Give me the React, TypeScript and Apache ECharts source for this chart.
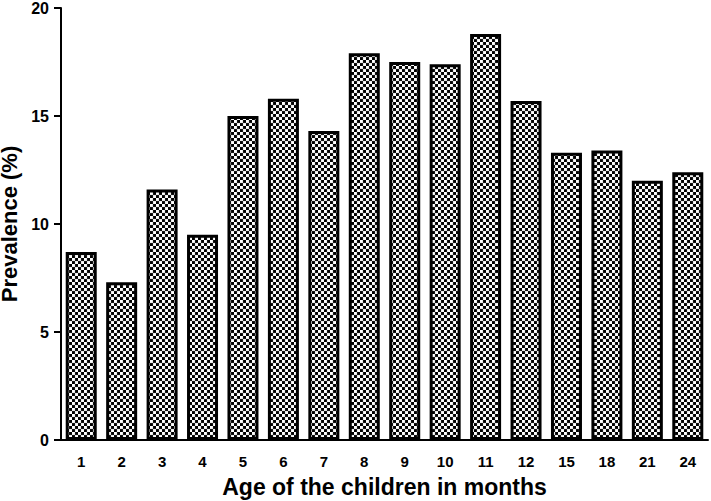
import React, { useEffect, useRef } from "react";
import * as echarts from "echarts";

const categories = ["1", "2", "3", "4", "5", "6", "7", "8", "9", "10", "11", "12", "15", "18", "21", "24"];
const prevalence = [8.7, 7.3, 11.6, 9.5, 15.0, 15.8, 14.3, 17.9, 17.5, 17.4, 18.8, 15.7, 13.3, 13.4, 12.0, 12.4];
const yTicks = { min: 0, max: 20, interval: 5 };

function makePattern(): HTMLCanvasElement {
  const c = document.createElement("canvas");
  c.width = 10;
  c.height = 10;
  const ctx = c.getContext("2d")!;
  ctx.fillStyle = "#000";
  ctx.fillRect(0, 0, 10, 10);
  ctx.fillStyle = "#fff";
  ctx.fillRect(0, 0, 5, 5);
  ctx.fillRect(5, 5, 5, 5);
  return c;
}

export default function App() {
  const ref = useRef<HTMLDivElement>(null);
  useEffect(() => {
    document.body.style.margin = "0";
    if (!ref.current) return;
    const chart = echarts.init(ref.current, undefined, { renderer: "svg" });
    const pattern = makePattern();
    const font = "'Liberation Sans', Arial, sans-serif";
    chart.setOption({
      animation: false,
      backgroundColor: "#fff",
      grid: { left: 61, right: 3, top: 8, bottom: 61, containLabel: false, outerBoundsMode: "none" },
      xAxis: {
        type: "category",
        data: categories,
        name: "Age of the children in months",
        nameLocation: "middle",
        nameGap: 35,
        nameTextStyle: { fontFamily: font, fontWeight: "bold", fontSize: 23, color: "#000" },
        axisLine: { lineStyle: { color: "#000", width: 2 } },
        axisTick: { alignWithLabel: true, length: 7, lineStyle: { color: "#000", width: 2 } },
        axisLabel: { fontFamily: font, fontWeight: "bold", fontSize: 15, color: "#000", margin: 14 },
      },
      yAxis: {
        type: "value",
        min: yTicks.min,
        max: yTicks.max,
        interval: yTicks.interval,
        name: "Prevalence (%)",
        nameLocation: "middle",
        nameGap: 30,
        nameTextStyle: { fontFamily: font, fontWeight: "bold", fontSize: 22, color: "#000" },
        axisLine: { show: true, lineStyle: { color: "#000", width: 2 } },
        axisTick: { show: true, length: 7, lineStyle: { color: "#000", width: 2 } },
        axisLabel: { fontFamily: font, fontWeight: "bold", fontSize: 16, color: "#000", margin: 12 },
        splitLine: { show: false },
      },
      series: [
        {
          type: "bar",
          data: prevalence,
          barWidth: 31,
          itemStyle: {
            color: { image: pattern, repeat: "repeat", scaleX: 0.6, scaleY: 0.6 } as any,
            borderColor: "#000",
            borderWidth: 3,
          },
        },
      ],
    });
    return () => chart.dispose();
  }, []);
  return <div ref={ref} style={{ width: 711, height: 501 }} />;
}
